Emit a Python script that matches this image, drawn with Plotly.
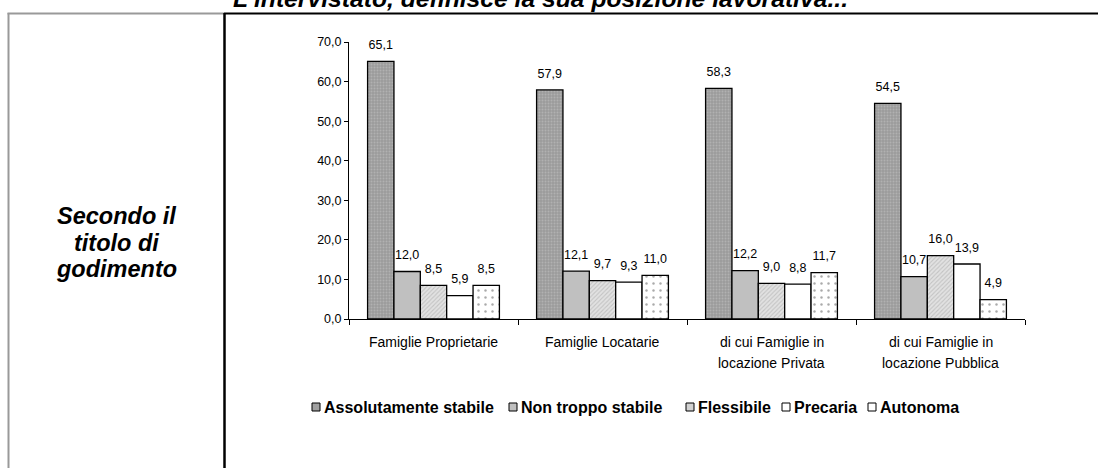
import plotly.graph_objects as go

# ---------------- data ----------------
categories = ["Famiglie Proprietarie", "Famiglie Locatarie",
              "di cui Famiglie in<br>locazione Privata",
              "di cui Famiglie in<br>locazione Pubblica"]
series_names = ["Assolutamente stabile", "Non troppo stabile", "Flessibile",
                "Precaria", "Autonoma"]
assolutamente_stabile = [65.1, 57.9, 58.3, 54.5]
non_troppo_stabile = [12.0, 12.1, 12.2, 10.7]
flessibile = [8.5, 9.7, 9.0, 16.0]
precaria = [5.9, 9.3, 8.8, 13.9]
autonoma = [8.5, 11.0, 11.7, 4.9]
y_tick_values = [0, 10, 20, 30, 40, 50, 60, 70]
y_tick_labels = ["0,0", "10,0", "20,0", "30,0", "40,0", "50,0", "60,0", "70,0"]
row_label_lines = ["Secondo il", "titolo di", "godimento"]
title_text = "L'intervistato, definisce la sua posizione lavorativa..."

series_values = [assolutamente_stabile, non_troppo_stabile, flessibile,
                 precaria, autonoma]

# ---------------- styles / layout ----------------
W, H = 1098, 468
L, R, T, B = 349, 1025, 42, 319  # plot area in pixels
FONT = "Liberation Sans, Arial, sans-serif"


def px2x(px):
    return (px - L) / (R - L)


def py2y(py):
    return (B - py) / (B - T)


bar_styles = [
    dict(color="#a0a0a0", pattern=dict(shape=".", fgcolor="#c6c6c6",
                                       bgcolor="#9c9c9c", size=3, solidity=0.3)),
    dict(color="#c0c0c0"),
    dict(color="#dcdcdc", pattern=dict(shape="/", fgcolor="#a4a4a4",
                                       bgcolor="#e2e2e2", size=3, solidity=0.35)),
    dict(color="#ffffff"),
    dict(color="#ffffff", pattern=dict(shape=".", fgcolor="#555555",
                                       bgcolor="#ffffff", size=7, solidity=0.1)),
]
legend_colors = ["#a0a0a0", "#c0c0c0", "#d2d2d2", "#ffffff", "#ffffff"]
legend_x_px = [312, 509, 686, 782, 868]
legend_y_px = 407

fig = go.Figure()

for name, vals, st in zip(series_names, series_values, bar_styles):
    marker = dict(color=st["color"], line=dict(color="black", width=1.3))
    if "pattern" in st:
        marker["pattern"] = st["pattern"]
    fig.add_trace(go.Bar(
        x=categories, y=vals, name=name, marker=marker,
        offsetgroup=name, showlegend=False, hoverinfo="skip",
    ))

# value labels (scatter text grouped like the bars)
for name, vals in zip(series_names, series_values):
    fig.add_trace(go.Scatter(
        x=categories, y=vals, mode="markers+text",
        text=[f"{v:.1f}".replace(".", ",") for v in vals],
        textposition="top center",
        textfont=dict(family=FONT, size=12.5, color="black"),
        marker=dict(size=13, color="rgba(0,0,0,0)"),
        offsetgroup=name, showlegend=False, hoverinfo="skip",
        cliponaxis=False,
    ))

fig.update_layout(
    width=W, height=H,
    margin=dict(l=L, r=W - R, t=T, b=H - B),
    paper_bgcolor="white", plot_bgcolor="white",
    barmode="group", bargap=0.22, bargroupgap=0,
    scattermode="group", scattergap=0.22,
    showlegend=False,
    font=dict(family=FONT, size=12, color="black"),
)
fig.update_yaxes(
    range=[0, 70], tickvals=y_tick_values, ticktext=y_tick_labels,
    showgrid=False, zeroline=False, showline=True, linecolor="black",
    linewidth=1, ticks="outside", ticklen=4, tickcolor="black",
    tickfont=dict(family=FONT, size=12.5, color="black"),
)
fig.update_xaxes(
    type="category", showticklabels=False, showgrid=False, showline=True,
    linecolor="black", linewidth=1, ticks="outside", tickson="boundaries",
    ticklen=5, tickcolor="black",
)

annotations = []
# category labels (one annotation per line for the wider line spacing)
line_y_px = [342, 363]
for cat in categories:
    for i, line in enumerate(cat.split("<br>")):
        annotations.append(dict(
            x=cat, xref="x", y=py2y(line_y_px[i]), yref="paper",
            text=line, showarrow=False, xanchor="center", yanchor="middle",
            font=dict(family=FONT, size=14, color="black"), borderpad=0,
        ))

# legend (manual, compact)
shapes = []
for name, col, xp in zip(series_names, legend_colors, legend_x_px):
    shapes.append(dict(type="rect", xref="paper", yref="paper",
                       x0=px2x(xp), x1=px2x(xp + 8),
                       y0=py2y(legend_y_px + 4), y1=py2y(legend_y_px - 4),
                       fillcolor=col, line=dict(color="black", width=1)))
    annotations.append(dict(
        x=px2x(xp + 11), y=py2y(legend_y_px), xref="paper", yref="paper",
        text=f"<b>{name}</b>", showarrow=False, xanchor="left",
        yanchor="middle", font=dict(family=FONT, size=16, color="black"),
        borderpad=0,
    ))

# row label at left
row_y_px = [216, 242.5, 269]
for line, yp in zip(row_label_lines, row_y_px):
    annotations.append(dict(
        x=px2x(116), y=py2y(yp), xref="paper", yref="paper",
        text=f"<b><i>{line}</i></b>", showarrow=False, xanchor="center",
        yanchor="middle", font=dict(family=FONT, size=23.5, color="black"),
        borderpad=0,
    ))

# cut-off title at top (the reference shows only its lower part)
annotations.append(dict(
    x=px2x(540), y=py2y(-1.3), xref="paper", yref="paper",
    text=f"<b><i>{title_text}</i></b>", showarrow=False, xanchor="center",
    yanchor="middle", font=dict(family=FONT, size=24.7, color="black"),
))

# table frame lines
shapes += [
    dict(type="line", xref="paper", yref="paper", x0=px2x(8.5), x1=px2x(8.5),
         y0=py2y(13), y1=py2y(470), line=dict(color="#999999", width=2)),
    dict(type="line", xref="paper", yref="paper", x0=px2x(7.5), x1=px2x(224),
         y0=py2y(13.5), y1=py2y(13.5), line=dict(color="#999999", width=2)),
    dict(type="line", xref="paper", yref="paper", x0=px2x(224), x1=px2x(1100),
         y0=py2y(13.5), y1=py2y(13.5), line=dict(color="black", width=2)),
    dict(type="line", xref="paper", yref="paper", x0=px2x(224.5), x1=px2x(224.5),
         y0=py2y(13), y1=py2y(470), line=dict(color="black", width=2.5)),
]

fig.update_layout(annotations=annotations, shapes=shapes)
fig.write_html("out.html")
